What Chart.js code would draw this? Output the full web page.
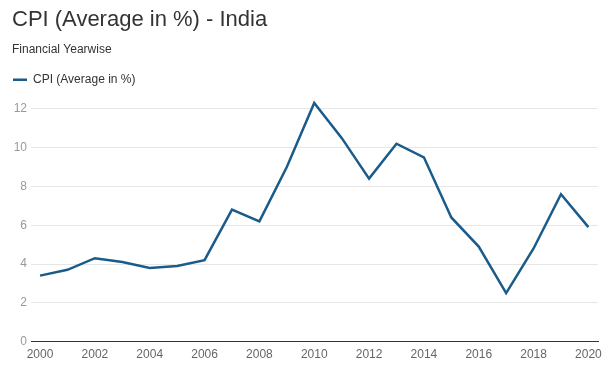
<!DOCTYPE html>
<html>
<head>
<meta charset="utf-8">
<title>CPI (Average in %) - India</title>
<script src="https://cdn.jsdelivr.net/npm/chart.js@4.4.1/dist/chart.umd.min.js"></script>
<style>
    html, body { margin: 0; padding: 0; background: #fff; }
    #wrap { width: 613px; height: 376px; position: relative; }
</style>
</head>
<body>
<div id="wrap"><canvas id="cpiChart"></canvas></div>
<script>
// Financial years and CPI average (%)
const years = [2000, 2001, 2002, 2003, 2004, 2005, 2006, 2007, 2008, 2009, 2010,
               2011, 2012, 2013, 2014, 2015, 2016, 2017, 2018, 2019, 2020];
const cpiValues = [3.4, 3.7, 4.3, 4.1, 3.8, 3.9, 4.2, 6.8, 6.2, 9.0, 12.3,
                   10.5, 8.4, 10.2, 9.5, 6.4, 4.9, 2.5, 4.8, 7.6, 5.9];
const xTickYears = [2000, 2002, 2004, 2006, 2008, 2010, 2012, 2014, 2016, 2018, 2020];
const yTickValues = [0, 2, 4, 6, 8, 10, 12];

const fontFamily = '"Liberation Sans", Arial, sans-serif';

// Give the legend some extra room underneath
const legendMargin = {
    id: 'legendMargin',
    beforeInit: function(chart) {
        const fit = chart.legend.fit;
        chart.legend.fit = function() {
            fit.bind(chart.legend)();
            this.height += 13;
        };
    }
};

document.addEventListener('DOMContentLoaded', function() {
    const ctx = document.getElementById('cpiChart').getContext('2d');
    const cpiChart = new Chart(ctx, {
        type: 'line',
        data: {
            datasets: [{
                label: 'CPI (Average in %)',
                data: years.map((y, i) => ({ x: y, y: cpiValues[i] })),
                borderColor: '#1a5b8a',
                backgroundColor: '#1a5b8a',
                borderWidth: 2.5,
                pointRadius: 0,
                tension: 0,
                clip: false
            }]
        },
        plugins: [legendMargin],
        options: {
            responsive: true,
            maintainAspectRatio: false,
            animation: false,
            layout: {
                padding: { left: 12, right: 15, top: 7, bottom: 8 }
            },
            scales: {
                x: {
                    type: 'linear',
                    min: 1999.67,
                    max: 2020.35,
                    afterBuildTicks: function(scale) {
                        scale.ticks = xTickYears.map(v => ({ value: v }));
                    },
                    grid: { display: false, drawTicks: false },
                    border: { display: true, color: '#333333', width: 1 },
                    ticks: {
                        autoSkip: false,
                        maxRotation: 0,
                        padding: 6,
                        color: '#666666',
                        font: { family: fontFamily, size: 12 },
                        callback: v => String(v)
                    }
                },
                y: {
                    min: 0,
                    max: 12,
                    afterBuildTicks: function(scale) {
                        scale.ticks = yTickValues.map(v => ({ value: v }));
                    },
                    afterFit: function(scale) {
                        scale.width = 19;
                    },
                    grid: {
                        color: '#e6e6e6',
                        drawTicks: false
                    },
                    border: { display: false },
                    ticks: {
                        padding: 4,
                        color: '#999999',
                        font: { family: fontFamily, size: 12 }
                    }
                }
            },
            plugins: {
                title: {
                    display: true,
                    text: 'CPI (Average in %) - India',
                    align: 'start',
                    color: '#333333',
                    font: { family: fontFamily, size: 22, weight: 'normal' },
                    padding: { top: 0, bottom: 9 }
                },
                subtitle: {
                    display: true,
                    text: 'Financial Yearwise',
                    align: 'start',
                    color: '#333333',
                    font: { family: fontFamily, size: 12 },
                    padding: { top: 0, bottom: 16 }
                },
                legend: {
                    display: true,
                    align: 'start',
                    labels: {
                        usePointStyle: true,
                        pointStyle: 'line',
                        pointStyleWidth: 14,
                        color: '#333333',
                        font: { family: fontFamily, size: 12 },
                        padding: 1
                    }
                },
                tooltip: { enabled: false }
            }
        }
    });
});
</script>
</body>
</html>
